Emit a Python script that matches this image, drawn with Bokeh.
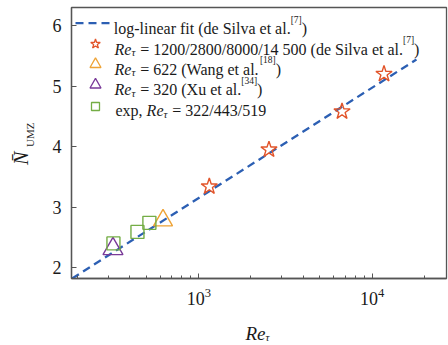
import math

from bokeh.embed import file_html
from bokeh.layouts import column, row
from bokeh.models import FixedTicker, Label, LinearScale, Range1d
from bokeh.plotting import figure
from bokeh.resources import INLINE

# ---- data -----------------------------------------------------------------
# log-linear fit of N_UMZ against Re_tau (de Silva et al.), end points
fit_re = [186, 18000]
fit_n = [1.82, 5.44]

# de Silva et al. boundary-layer data
silva_re = [1150, 2540, 6700, 11700]
silva_n = [3.34, 3.95, 4.58, 5.20]

# Wang et al.
wang_re = [622]
wang_n = [2.78]

# Xu et al.
xu_re = [320]
xu_n = [2.31]

# present experiments
exp_re = [322, 443, 519]
exp_n = [2.40, 2.59, 2.74]

x_major_ticks = [1e3, 1e4]
y_major_ticks = [2, 3, 4, 5, 6]

# ---- styling ----------------------------------------------------------------
BLUE = "#2c5fb3"
RED = "#e2552b"
ORANGE = "#eea336"
PURPLE = "#7a3a99"
GREEN = "#74ad45"
AXIS = "#555555"
INK = "#1a1a1a"
SERIF = "Liberation Serif"

W, H = 448, 345            # whole page
STRIP_W, STRIP_H = 40, 30  # strips that carry the axis titles
FRAME_L, FRAME_R, FRAME_T, FRAME_B = 71, 446, 7, 278

MAIN_W, MAIN_H = W - STRIP_W, H - STRIP_H

p = figure(
    width=MAIN_W, height=MAIN_H,
    x_axis_type="log",
    x_range=Range1d(184.5, 26830),
    y_range=Range1d(1.82, 6.30),
    output_backend="svg",
    toolbar_location=None,
    min_border_left=FRAME_L - STRIP_W, min_border_right=W - FRAME_R,
    min_border_top=FRAME_T, min_border_bottom=MAIN_H - FRAME_B,
)
p.grid.visible = False
p.background_fill_color = "white"
p.border_fill_color = "white"
p.outline_line_color = AXIS
p.outline_line_width = 1.3

# linear pixel-space ranges (page coordinates) for the legend
p.extra_x_ranges = {"px": Range1d(FRAME_L, FRAME_R)}
p.extra_y_ranges = {"py": Range1d(FRAME_B, FRAME_T)}
p.extra_x_scales = {"px": LinearScale()}
p.extra_y_scales = {"py": LinearScale()}

minor = [m * 10 ** e for e in (2, 3, 4) for m in range(2, 10)]
p.xaxis.ticker = FixedTicker(ticks=x_major_ticks, minor_ticks=minor)
p.yaxis.ticker = FixedTicker(ticks=y_major_ticks)

for ax in (p.xaxis, p.yaxis):
    ax.axis_line_color = AXIS
    ax.axis_line_width = 1.3
    ax.major_tick_line_color = AXIS
    ax.minor_tick_line_color = AXIS
    ax.major_tick_in = 5
    ax.major_tick_out = 0
    ax.minor_tick_in = 3
    ax.minor_tick_out = 0
    ax.major_label_text_font = SERIF
    ax.major_label_text_font_size = "18px"
    ax.major_label_text_color = INK
p.yaxis.minor_tick_line_color = None
p.xaxis.major_label_standoff = 9
p.yaxis.major_label_standoff = 10

# ---- data marks -------------------------------------------------------------
p.line(fit_re, fit_n, line_color=BLUE, line_width=2.3, line_dash="8 5")
p.scatter(silva_re, silva_n, marker="star", size=17, line_color=RED,
          fill_color=None, line_width=1.4)
p.scatter(wang_re, wang_n, marker="triangle", size=19, line_color=ORANGE,
          fill_color=None, line_width=1.4)
p.scatter(xu_re, xu_n, marker="triangle", size=20, line_color=PURPLE,
          fill_color=None, line_width=1.4)
p.scatter(exp_re, exp_n, marker="square", size=13, line_color=GREEN,
          fill_color=None, line_width=1.4)


# ---- strips for the axis titles (page coordinates) ---------------------------
# Each strip's frame is given the same page extent as the main frame along
# the shared direction, so its ranges read directly in page pixels.
def strip(width, height, x_span, y_span, borders):
    left, right, top, bottom = borders
    s = figure(width=width, height=height,
               x_range=Range1d(*x_span), y_range=Range1d(*y_span),
               x_axis_location=None, y_axis_location=None,
               output_backend="svg", toolbar_location=None,
               min_border_left=left, min_border_right=right,
               min_border_top=top, min_border_bottom=bottom)
    s.grid.visible = False
    s.outline_line_color = None
    s.background_fill_color = "white"
    s.border_fill_color = "white"
    return s


left_strip = strip(STRIP_W, H, (0, STRIP_W), (FRAME_B, FRAME_T),
                   (0, 0, FRAME_T, H - FRAME_B))
bottom_strip = strip(MAIN_W, STRIP_H, (FRAME_L, FRAME_R), (H, MAIN_H),
                     (FRAME_L - STRIP_W, W - FRAME_R, 0, 0))

# ---- rich text helpers ------------------------------------------------------
ROMAN = {" ": 250, "(": 333, ")": 333, ",": 250, "-": 333, ".": 250, "/": 278,
         "=": 564, "[": 333, "]": 333, "S": 556, "W": 944, "X": 722,
         "U": 722, "M": 889, "Z": 611, "a": 444, "d": 500, "e": 444,
         "f": 333, "g": 500, "i": 278, "l": 278, "n": 500, "o": 500,
         "p": 500, "r": 333, "s": 389, "t": 278, "u": 500, "v": 500,
         "x": 500}
ITALIC = {"R": 611, "e": 444, "N": 667, "\u03c4": 440}
MID = 0.3375  # middle of the text box above the baseline, in em


def text_width(txt, style, size):
    table = ITALIC if style == "italic" else ROMAN
    return sum(table.get(ch, 500) for ch in txt) * size / 1000.0


def add_text(fig, x, y, txt, size, style="normal", angle=0.0, ranges=None,
             baseline="alphabetic"):
    extra = {"x_range_name": "px", "y_range_name": "py"} if ranges else {}
    fig.add_layout(Label(
        x=x, y=y, text=txt, angle=angle,
        text_font=SERIF, text_font_size=f"{size}px",
        text_font_style=style, text_color=INK,
        text_align="left", text_baseline=baseline, **extra,
    ))


def add_run(fig, x0, baseline, segments, ranges=None):
    x = x0
    for txt, size, style, dy in segments:
        lead = len(txt) - len(txt.lstrip(" "))
        body = txt.strip(" ")
        trail = len(txt) - len(txt.rstrip(" "))
        x += lead * ROMAN[" "] * size / 1000.0
        if body:
            add_text(fig, x, baseline + dy, body, size, style, ranges=ranges)
            x += text_width(body, style, size)
        x += trail * ROMAN[" "] * size / 1000.0


def add_vertical(fig, base_x, start_y, txt, size, style="normal"):
    # upright text rotated to read bottom-to-top; base_x is its baseline
    add_text(fig, base_x - MID * size, start_y, txt, size, style,
             angle=math.pi / 2, baseline="middle")


def re_tau(size=16, sub=11, drop=3):
    return [("Re", size, "italic", 0), ("\u03c4", sub, "italic", drop)]


def cite(num, size=16):
    return [("[" + num + "]", 9.5, "normal", -9), (")", size, "normal", 0)]


# ---- legend -----------------------------------------------------------------
KEY_X = 95
TEXT_X = 114
rows = [28.3, 48.5, 68.8, 89.3, 110.0]
px = {"x_range_name": "px", "y_range_name": "py"}

p.line([75, 111], [rows[0] - 5.6] * 2, line_color=BLUE, line_width=2.3,
       line_dash="8 5", **px)
add_run(p, 113.3, rows[0],
        [("log-linear fit (de Silva et al.", 16, "normal", 0)] + cite("7"), ranges=True)

p.scatter([KEY_X], [rows[1] - 5], marker="star", size=10, line_color=RED,
          fill_color=None, line_width=1.3, **px)
add_run(p, TEXT_X, rows[1], re_tau()
        + [(" = 1200/2800/8000/14 500 (de Silva et al.", 16, "normal", 0)] + cite("7"),
        ranges=True)

p.scatter([KEY_X], [rows[2] - 5], marker="triangle", size=11, line_color=ORANGE,
          fill_color=None, line_width=1.3, **px)
add_run(p, TEXT_X, rows[2], re_tau() + [(" = 622 (Wang et al.", 16, "normal", 0)]
        + cite("18"), ranges=True)

p.scatter([KEY_X], [rows[3] - 5], marker="triangle", size=11, line_color=PURPLE,
          fill_color=None, line_width=1.3, **px)
add_run(p, TEXT_X, rows[3], re_tau() + [(" = 320 (Xu et al.", 16, "normal", 0)]
        + cite("34"), ranges=True)

p.scatter([KEY_X], [rows[4] - 4], marker="square", size=8, line_color=GREEN,
          fill_color=None, line_width=1.3, **px)
add_run(p, 115, rows[4], [("exp, ", 16, "normal", 0)] + re_tau()
        + [(" = 322/443/519", 16, "normal", 0)], ranges=True)

# ---- axis titles ------------------------------------------------------------
add_run(bottom_strip, 245, 332.5, re_tau(19, 11, 4))
add_vertical(left_strip, 27.5, 164.5, "N\u0304", 20, "italic")
add_vertical(left_strip, 33, 146.5, "UMZ", 11)

layout = row(left_strip, column(p, bottom_strip, spacing=0), spacing=0)

open("out.html", "w").write(file_html(layout, INLINE))
